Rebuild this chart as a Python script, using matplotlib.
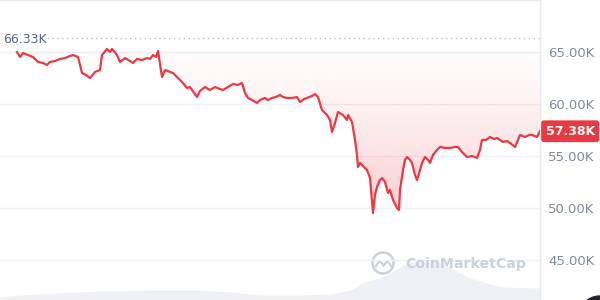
import numpy as np
import matplotlib
matplotlib.use("Agg")
import matplotlib.pyplot as plt
from matplotlib.patches import Circle
from matplotlib.transforms import blended_transform_factory

# time position (sample index) and price in thousands USD
t = [17, 20, 23, 28, 33, 38, 43, 47, 50, 55,
     60, 65, 70, 73, 78, 82, 86, 90, 95, 100,
     102, 107, 110, 112, 117, 120, 125, 130, 133, 137,
     142, 147, 150, 153, 156, 158, 162, 165, 170, 173,
     178, 182, 187, 190, 192, 197, 200, 205, 210, 215,
     220, 223, 228, 233, 238, 242, 245, 248, 252, 257,
     260, 265, 268, 272, 276, 280, 283, 287, 292, 297,
     300, 304, 307, 312, 315, 318, 322, 325, 327, 330,
     332, 335, 338, 343, 347, 348, 352, 355, 357, 358,
     360, 363, 367, 370, 373, 375, 377, 380, 382, 385,
     388, 390, 393, 397, 399, 400, 403, 405, 407, 410,
     412, 415, 417, 418, 420, 422, 425, 428, 430, 433,
     437, 440, 445, 450, 455, 458, 462, 467, 472, 477,
     480, 482, 486, 490, 494, 497, 503, 507, 510, 515,
     518, 520, 525, 529, 532, 537, 540]
price = [65.00, 64.52, 64.90, 64.71, 64.52, 64.04, 63.94, 63.75, 64.04, 64.13,
         64.33, 64.42, 64.62, 64.71, 64.52, 62.98, 62.79, 62.50, 63.08, 63.27,
         64.71, 65.29, 65.00, 65.29, 64.71, 64.04, 64.42, 64.13, 63.94, 64.33,
         64.23, 64.42, 64.33, 64.71, 64.52, 65.10, 62.60, 63.27, 63.08, 62.98,
         62.50, 62.12, 61.54, 61.63, 61.35, 60.67, 61.25, 61.63, 61.35, 61.63,
         61.44, 61.35, 61.63, 61.92, 61.83, 62.02, 61.06, 60.58, 60.38, 60.10,
         60.38, 60.58, 60.38, 60.58, 60.67, 60.87, 60.67, 60.58, 60.58, 60.67,
         60.19, 60.48, 60.58, 60.77, 60.96, 60.67, 59.42, 59.13, 58.94, 58.46,
         57.31, 58.17, 59.23, 58.94, 58.46, 58.94, 58.27, 56.54, 55.10, 53.94,
         54.33, 54.04, 53.65, 52.88, 49.52, 51.25, 52.02, 52.69, 52.88, 52.50,
         51.44, 51.73, 50.77, 50.00, 49.81, 51.73, 53.65, 54.62, 54.90, 54.62,
         54.33, 53.17, 52.69, 52.98, 53.65, 54.33, 54.90, 54.62, 54.33, 55.10,
         55.58, 55.87, 55.77, 55.77, 55.87, 55.87, 55.38, 54.90, 55.00, 54.81,
         55.58, 56.54, 56.54, 56.83, 56.63, 56.73, 56.35, 56.44, 56.25, 55.87,
         56.54, 57.02, 56.83, 57.02, 57.02, 56.83, 57.38]

# trading volume (relative)
vol_t = [0, 20, 60, 100, 150, 200, 230, 260, 300, 330, 350, 365, 380, 395,
         410, 440, 455, 467, 487, 500, 540]
volume = [3, 5, 7, 9, 10, 10, 8, 5, 5, 6, 10, 18, 22, 30,
          38, 38, 30, 23, 17, 13, 12]

high = 66.33
ticks = [45, 50, 55, 60, 65]
tick_labels = ["45.00K", "50.00K", "55.00K", "60.00K", "65.00K"]

red = "#ea3943"
grid_c = "#eff2f5"
txt_c = "#808a9d"

fig = plt.figure(figsize=(6, 3), dpi=100)
ax = fig.add_axes([0, 0, 0.9, 1])
ax.set_facecolor("none")

# volume area on its own scale
axv = ax.twinx()
axv.fill_between(vol_t, volume, 0, color="#edf0f4", lw=0, zorder=0)
axv.set_ylim(0, 300)
axv.axis("off")
ax.set_zorder(axv.get_zorder() + 1)

# gradient fill between line and opening price
base = price[0]
poly = ax.fill_between(t, price, base, color="none", lw=0)
grad = np.zeros((256, 1, 4))
grad[:, 0, :3] = matplotlib.colors.to_rgb(red)
grad[:, 0, 3] = 0.02 + 0.24 * np.linspace(0, 1, 256) ** 1.4
img = ax.imshow(grad, extent=[t[0], t[-1], min(price), base], aspect="auto",
                origin="upper", zorder=1)
img.set_clip_path(poly.get_paths()[0], transform=ax.transData)

ax.plot(t, price, color=red, lw=1.6, zorder=3, solid_joinstyle="round")

# high marker
ax.axhline(high, xmin=47 / 540, xmax=1, color="#b5bdcc", lw=1,
           linestyle=(0, (1, 2.5)), zorder=2)
trans = blended_transform_factory(ax.transAxes, ax.transData)
ax.text(3 / 540, high - 0.1, f"{high:.2f}K", transform=trans, ha="left", va="center",
        color="#58667e", fontsize=9)

# last price badge
ax.annotate(f"{price[-1]:.2f}K", xy=(1.0, price[-1]), xycoords=trans,
            xytext=(4, 0), textcoords="offset points", ha="left", va="center",
            color="white", fontsize=9, fontweight="bold", zorder=5,
            bbox=dict(boxstyle="round,pad=0.35,rounding_size=0.2", fc=red, ec="none"),
            annotation_clip=False)

ax.set_xlim(0, 540)
ax.set_ylim(65 - 248 / 10.4, 65 + 52 / 10.4)
ax.set_yticks(ticks)
ax.set_yticklabels(tick_labels)
ax.yaxis.tick_right()
ax.tick_params(axis="y", length=0, pad=6, labelsize=9.5, labelcolor=txt_c)
ax.set_xticks([])
ax.grid(axis="y", color=grid_c, lw=1)
ax.set_axisbelow(True)
for s in ["left", "bottom"]:
    ax.spines[s].set_visible(False)
for s in ["top", "right"]:
    ax.spines[s].set_color("#e6e9ee")
    ax.spines[s].set_linewidth(1)

# watermark
fig.text(405 / 600, 1 - 264 / 300, "CoinMarketCap", ha="left", va="center",
         fontsize=10.2, fontweight="bold", color="#cbd1dc", family="DejaVu Sans")
ov = fig.add_axes([0, 0, 1, 1])
ov.set_xlim(0, 600)
ov.set_ylim(300, 0)
ov.axis("off")
ov.add_patch(Circle((383, 263), 10.5, fill=False, ec="#cbd1dc", lw=1.8))
wx = np.linspace(376, 391, 40)
wy = 266 - 4 * np.abs(np.sin((wx - 376) / 15 * 2 * np.pi))
ov.plot(wx, wy, color="#cbd1dc", lw=1.6)
ov.add_patch(Circle((600, 318), 22, color="#222531", zorder=5))

fig.savefig("out.png", dpi=100)
